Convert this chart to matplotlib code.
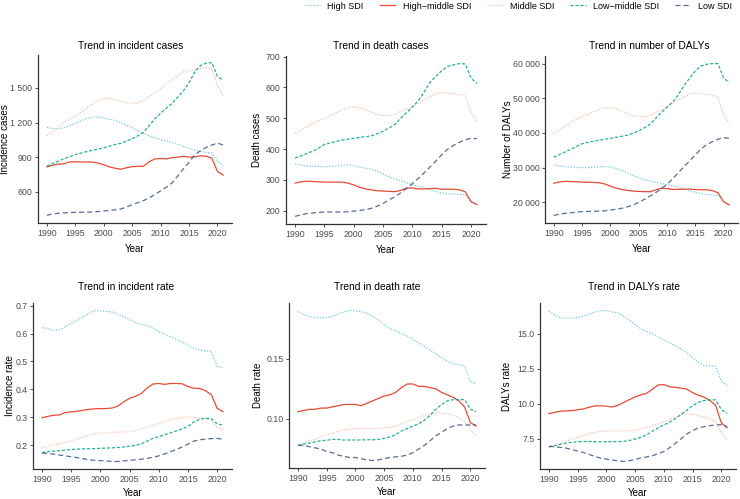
import matplotlib
matplotlib.use("Agg")
import matplotlib.pyplot as plt
from matplotlib.ticker import FuncFormatter, MultipleLocator

plt.rcParams['font.family'] = ['Liberation Sans', 'DejaVu Sans']

years = list(range(1990, 2022))
groups = ['High SDI', 'High\u2212middle SDI', 'Middle SDI', 'Low\u2212middle SDI', 'Low SDI']

# Trend in incident cases
inc_high = [1160, 1150, 1145, 1155, 1175, 1195, 1215, 1235, 1248, 1248, 1240, 1230, 1218, 1200, 1178, 1155,
            1130, 1105, 1085, 1068, 1053, 1040, 1027, 1012, 995, 978, 960, 949, 940, 935, 860, 827]
inc_highmid = [815, 830, 840, 842, 858, 860, 858, 858, 858, 848, 835, 815, 804, 795, 808, 818,
               820, 822, 860, 885, 888, 885, 895, 900, 908, 900, 902, 912, 908, 891, 775, 745]
inc_mid = [1085, 1120, 1160, 1200, 1230, 1256, 1290, 1325, 1360, 1395, 1410, 1410, 1400, 1385, 1372, 1368,
           1372, 1395, 1425, 1455, 1495, 1540, 1572, 1610, 1640, 1655, 1660, 1670, 1677, 1668, 1520, 1430]
inc_lowmid = [822, 845, 865, 885, 905, 922, 935, 948, 960, 970, 981, 995, 1010, 1020, 1040, 1060,
              1085, 1117, 1175, 1233, 1280, 1325, 1365, 1420, 1475, 1545, 1640, 1695, 1715, 1720, 1600, 1567]
inc_low = [395, 408, 413, 416, 419, 421, 422, 423, 424, 428, 433, 438, 443, 450, 468, 488,
           505, 523, 548, 575, 608, 640, 676, 735, 798, 856, 920, 955, 985, 1005, 1022, 1005]

# Trend in death cases
dth_high = [352, 348, 345, 344, 344, 343, 344, 345, 347, 349, 346, 342, 338, 335, 328, 320,
            310, 303, 297, 290, 285, 279, 274, 268, 262, 258, 255, 254, 253, 252, 228, 223]
dth_highmid = [290, 294, 296, 295, 294, 293, 293, 293, 293, 290, 284, 276, 271, 268, 265, 264,
               263, 262, 266, 274, 274, 271, 271, 272, 273, 270, 270, 270, 268, 262, 230, 220]
dth_mid = [451, 462, 473, 483, 492, 500, 509, 518, 527, 535, 537, 533, 527, 519, 512, 509,
           509, 513, 522, 530, 537, 547, 558, 570, 580, 583, 581, 580, 577, 574, 520, 490]
dth_lowmid = [371, 378, 386, 393, 403, 415, 420, 425, 429, 432, 435, 438, 440, 443, 450, 458,
              468, 480, 500, 518, 537, 556, 585, 616, 636, 654, 668, 673, 677, 676, 630, 613]
dth_low = [182, 187, 191, 193, 195, 196, 196, 196, 196, 197, 199, 201, 204, 208, 215, 224,
           235, 246, 258, 272, 288, 305, 323, 342, 361, 382, 400, 412, 422, 430, 435, 434]

# Trend in number of DALYs
daly_high = [30800, 30500, 30300, 30200, 30100, 30000, 30000, 30100, 30250, 30350, 30200, 29750, 29250, 28550,
             27800, 27100, 26550, 26150, 25800, 25450, 25150, 24750, 24300, 23850, 23350, 22900, 22550, 22300,
             22150, 22100, 20300, 19400]
daly_highmid = [25500, 25900, 26050, 26000, 25950, 25870, 25800, 25750, 25680, 25300, 24700, 24100, 23750, 23450,
                23270, 23150, 23100, 23080, 23600, 24100, 24000, 23750, 23750, 23800, 23850, 23700, 23650, 23650,
                23400, 22800, 20200, 19250]
daly_mid = [39600, 40800, 41900, 43000, 43900, 44700, 45400, 46100, 46700, 47300, 47300, 46900, 46350, 45600,
            44900, 44700, 44700, 45100, 45900, 46700, 47600, 48500, 49500, 50400, 51150, 51450, 51300, 51150,
            50800, 50500, 45300, 42800]
daly_lowmid = [33000, 33800, 34550, 35300, 36100, 36900, 37300, 37600, 37900, 38200, 38450, 38750, 39050, 39350,
               39950, 40600, 41500, 42500, 44200, 45900, 47400, 48950, 51000, 53600, 55800, 57900, 59300, 59800,
               60000, 60000, 55900, 54500]
daly_low = [16250, 16600, 16850, 17000, 17200, 17350, 17400, 17450, 17500, 17550, 17800, 18000, 18300, 18700,
            19250, 20000, 20850, 21800, 22800, 23950, 25200, 26800, 28550, 30300, 31950, 33700, 35400, 36600,
            37500, 38200, 38650, 38450]

# Trend in incident rate
incr_high = [0.622, 0.617, 0.612, 0.614, 0.625, 0.637, 0.648, 0.660, 0.672, 0.683, 0.682, 0.680, 0.678, 0.670,
             0.661, 0.650, 0.641, 0.634, 0.628, 0.620, 0.607, 0.598, 0.589, 0.580, 0.570, 0.558, 0.547, 0.541,
             0.538, 0.536, 0.483, 0.477]
incr_highmid = [0.298, 0.303, 0.307, 0.308, 0.317, 0.319, 0.321, 0.325, 0.328, 0.330, 0.331, 0.331, 0.333, 0.340,
                0.355, 0.368, 0.375, 0.385, 0.405, 0.419, 0.421, 0.418, 0.421, 0.421, 0.420, 0.410, 0.404, 0.403,
                0.395, 0.381, 0.332, 0.320]
incr_mid = [0.190, 0.195, 0.200, 0.205, 0.210, 0.215, 0.222, 0.229, 0.235, 0.240, 0.243, 0.245, 0.246, 0.246,
            0.247, 0.248, 0.252, 0.258, 0.265, 0.271, 0.278, 0.285, 0.291, 0.296, 0.299, 0.300, 0.299, 0.297,
            0.295, 0.288, 0.265, 0.255]
incr_lowmid = [0.173, 0.176, 0.178, 0.180, 0.182, 0.184, 0.185, 0.186, 0.187, 0.187, 0.188, 0.189, 0.190, 0.191,
               0.193, 0.196, 0.199, 0.204, 0.214, 0.224, 0.230, 0.237, 0.243, 0.251, 0.258, 0.267, 0.283, 0.293,
               0.296, 0.295, 0.276, 0.271]
incr_low = [0.171, 0.170, 0.167, 0.164, 0.161, 0.158, 0.155, 0.151, 0.147, 0.145, 0.144, 0.143, 0.141, 0.141,
            0.143, 0.145, 0.147, 0.149, 0.152, 0.156, 0.161, 0.168, 0.176, 0.184, 0.193, 0.203, 0.214, 0.219,
            0.221, 0.223, 0.224, 0.221]

# Trend in death rate
dr_high = [0.189, 0.187, 0.185, 0.184, 0.184, 0.184, 0.185, 0.187, 0.189, 0.190, 0.190, 0.189, 0.188, 0.185,
           0.182, 0.178, 0.175, 0.173, 0.171, 0.169, 0.166, 0.163, 0.160, 0.157, 0.154, 0.151, 0.148, 0.146,
           0.145, 0.144, 0.131, 0.129]
dr_highmid = [0.106, 0.107, 0.108, 0.108, 0.109, 0.109, 0.110, 0.111, 0.112, 0.112, 0.112, 0.111, 0.113, 0.115,
              0.117, 0.119, 0.120, 0.122, 0.126, 0.129, 0.129, 0.127, 0.127, 0.126, 0.125, 0.122, 0.120, 0.118,
              0.115, 0.110, 0.097, 0.094]
dr_mid = [0.078, 0.080, 0.082, 0.083, 0.085, 0.087, 0.088, 0.090, 0.091, 0.0915, 0.0918, 0.092, 0.092, 0.0918,
          0.092, 0.093, 0.093, 0.094, 0.096, 0.098, 0.0995, 0.101, 0.103, 0.104, 0.105, 0.105, 0.104, 0.103,
          0.101, 0.098, 0.091, 0.086]
dr_lowmid = [0.078, 0.079, 0.080, 0.081, 0.082, 0.0823, 0.083, 0.083, 0.0825, 0.0825, 0.0825, 0.0826, 0.0827,
             0.0827, 0.083, 0.084, 0.085, 0.087, 0.090, 0.092, 0.094, 0.096, 0.099, 0.103, 0.108, 0.112, 0.115,
             0.116, 0.116, 0.116, 0.108, 0.106]
dr_low = [0.078, 0.078, 0.077, 0.076, 0.075, 0.073, 0.072, 0.070, 0.069, 0.068, 0.068, 0.067, 0.066, 0.0655,
          0.066, 0.067, 0.068, 0.0685, 0.069, 0.070, 0.072, 0.075, 0.078, 0.082, 0.086, 0.089, 0.092, 0.094,
          0.095, 0.095, 0.095, 0.095]

# Trend in DALYs rate
dalyr_high = [16.6, 16.35, 16.15, 16.1, 16.12, 16.15, 16.25, 16.38, 16.55, 16.65, 16.65, 16.55, 16.48, 16.25,
              15.98, 15.65, 15.35, 15.15, 15.0, 14.8, 14.55, 14.35, 14.15, 13.9, 13.65, 13.3, 12.95, 12.75,
              12.7, 12.68, 11.6, 11.3]
dalyr_highmid = [9.3, 9.4, 9.48, 9.5, 9.52, 9.58, 9.64, 9.76, 9.86, 9.86, 9.84, 9.78, 9.9, 10.1, 10.3, 10.5,
                 10.65, 10.75, 11.05, 11.35, 11.37, 11.22, 11.18, 11.12, 11.05, 10.8, 10.62, 10.48, 10.25, 9.9,
                 8.65, 8.3]
dalyr_mid = [6.9, 7.05, 7.2, 7.35, 7.5, 7.62, 7.75, 7.88, 7.98, 8.05, 8.08, 8.09, 8.09, 8.08, 8.1, 8.13,
             8.2, 8.32, 8.45, 8.57, 8.72, 8.9, 9.06, 9.22, 9.28, 9.27, 9.17, 9.05, 8.93, 8.75, 7.95, 7.5]
dalyr_lowmid = [6.95, 7.03, 7.12, 7.2, 7.27, 7.3, 7.32, 7.32, 7.31, 7.3, 7.3, 7.31, 7.32, 7.33, 7.4, 7.5,
                7.62, 7.8, 8.05, 8.3, 8.5, 8.7, 8.95, 9.25, 9.55, 9.88, 10.1, 10.24, 10.28, 10.29, 9.6, 9.33]
dalyr_low = [6.97, 6.95, 6.9, 6.85, 6.75, 6.64, 6.54, 6.4, 6.25, 6.14, 6.07, 6.0, 5.95, 5.9, 5.95, 6.05,
             6.15, 6.22, 6.31, 6.45, 6.61, 6.88, 7.19, 7.52, 7.86, 8.1, 8.29, 8.38, 8.45, 8.5, 8.52, 8.38]

colors = ['#4DBBD5', '#E64B35', '#F39B7F', '#00A087', '#3C5488']
alphas = [0.8, 1.0, 0.65, 0.85, 0.85]
styles = [(0, (1, 1.3)), '-', (0, (1, 1.3)), (0, (2.5, 1.5)), (0, (4, 2.5))]

panels = [
    ('Trend in incident cases', 'Incidence cases',
     [inc_high, inc_highmid, inc_mid, inc_lowmid, inc_low], 300, 'thou'),
    ('Trend in death cases', 'Death cases',
     [dth_high, dth_highmid, dth_mid, dth_lowmid, dth_low], 100, 'thou'),
    ('Trend in number of DALYs', 'Number of DALYs',
     [daly_high, daly_highmid, daly_mid, daly_lowmid, daly_low], 10000, 'thou'),
    ('Trend in incident rate', 'Incidence rate',
     [incr_high, incr_highmid, incr_mid, incr_lowmid, incr_low], 0.1, '1f'),
    ('Trend in death rate', 'Death rate',
     [dr_high, dr_highmid, dr_mid, dr_lowmid, dr_low], 0.05, '2f'),
    ('Trend in DALYs rate', 'DALYs rate',
     [dalyr_high, dalyr_highmid, dalyr_mid, dalyr_lowmid, dalyr_low], 2.5, '1f'),
]

W, H = 740, 499
# axes boxes in pixels: left, top, right, bottom
boxes = [(38, 55, 232, 223), (286, 56, 486, 224), (545, 56, 738, 223),
         (33, 303, 232, 469), (289, 303, 485, 468), (540, 303, 736, 469)]
title_pos = [(131, 46), (381, 46), (649, 46), (126, 287), (377, 287), (634, 287)]
ylabel_x = [10, 262, 513, 15, 263, 512]

fig = plt.figure(figsize=(W / 100, H / 100), dpi=100)


def fmt_thou(v, pos):
    return f'{v:,.0f}'.replace(',', ' ')


handles = []
for i, (title, ylab, series, step, kind) in enumerate(panels):
    l, t, r, b = boxes[i]
    ax = fig.add_axes([l / W, 1 - b / H, (r - l) / W, (b - t) / H])
    for j, vals in enumerate(series):
        ln, = ax.plot(years, vals, color=colors[j], alpha=alphas[j], linestyle=styles[j],
                      linewidth=0.9, label=groups[j])
        if i == 0:
            handles.append(ln)
    ax.margins(x=0.05, y=0.05)
    ax.xaxis.set_major_locator(MultipleLocator(5))
    ax.yaxis.set_major_locator(MultipleLocator(step))
    if kind == 'thou':
        ax.yaxis.set_major_formatter(FuncFormatter(fmt_thou))
    elif kind == '1f':
        ax.yaxis.set_major_formatter(FuncFormatter(lambda v, p: f'{v:.1f}'))
    else:
        ax.yaxis.set_major_formatter(FuncFormatter(lambda v, p: f'{v:.2f}'))
    for s in ['top', 'right']:
        ax.spines[s].set_visible(False)
    for s in ['left', 'bottom']:
        ax.spines[s].set_color('#333333')
        ax.spines[s].set_linewidth(0.9)
    ax.tick_params(axis='both', labelsize=6.3, colors='#333333', labelcolor='#4D4D4D',
                   length=2.5, width=0.6, pad=1.5)
    ax.set_xlabel('Year', fontsize=7, labelpad=4.5 if i < 3 else 3)
    ax.set_ylabel(ylab, fontsize=7)
    ax.yaxis.set_label_coords(ylabel_x[i] / W, 1 - ((t + b) / 2) / H, transform=fig.transFigure)
    fig.text(title_pos[i][0] / W, 1 - title_pos[i][1] / H, title, fontsize=7.4,
             ha='center', va='center')

fig.legend(handles=handles, loc='upper right', bbox_to_anchor=(1.0, 1.013), ncol=5,
           frameon=False, fontsize=6.5, handlelength=1.7, columnspacing=1.8, handletextpad=0.8)

fig.savefig('out.png', dpi=100)
